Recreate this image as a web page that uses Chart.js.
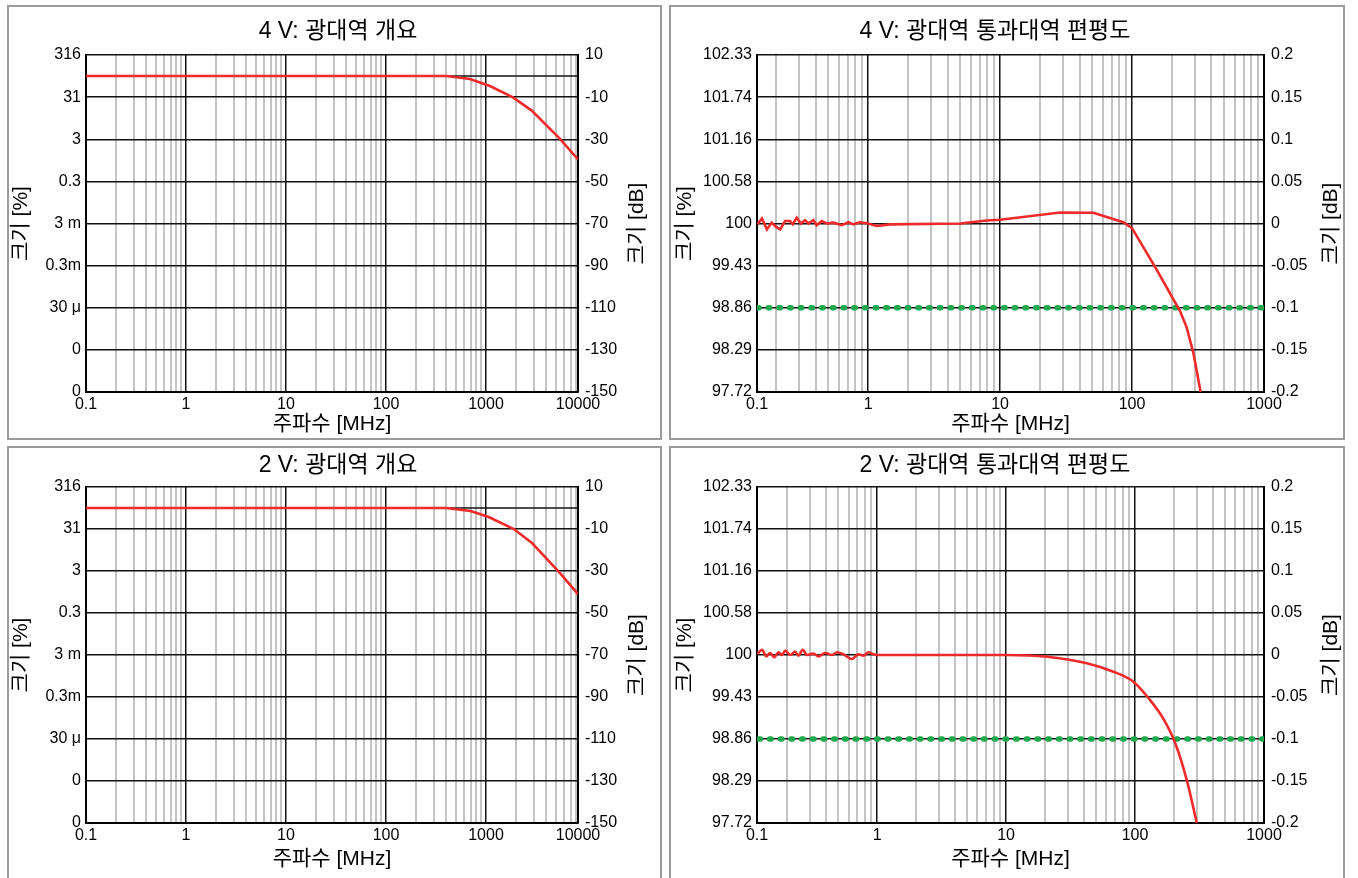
<!DOCTYPE html>
<html lang="ko">
<head>
<meta charset="utf-8">
<title>광대역 주파수 응답</title>
<script src="https://cdn.jsdelivr.net/npm/chart.js@4.4.1/dist/chart.umd.min.js"></script>
<style>
  html, body { margin: 0; padding: 0; background: #fff; }
  body { width: 1358px; height: 878px; position: relative; overflow: hidden; }
  .frame { position: absolute; box-sizing: border-box; border: 2px solid #9b9b9b; }
  canvas { position: absolute; }
</style>
</head>
<body>
<div class="frame" style="left:7px;top:5px;width:655px;height:435px"></div>
<div class="frame" style="left:669px;top:5px;width:676px;height:435px"></div>
<div class="frame" style="left:7px;top:446px;width:655px;height:440px"></div>
<div class="frame" style="left:669px;top:446px;width:676px;height:440px"></div>

<canvas id="overview4v" width="676" height="440" style="left:0;top:0"></canvas>
<canvas id="flat4v" width="710" height="440" style="left:640px;top:0"></canvas>
<canvas id="overview2v" width="676" height="438" style="left:0;top:440px"></canvas>
<canvas id="flat2v" width="710" height="438" style="left:640px;top:440px"></canvas>

<script>
// Axis ticks and labels
const overviewDbTicks = [10, -10, -30, -50, -70, -90, -110, -130, -150];
const overviewPctLabels = ["316", "31", "3", "0.3", "3 m", "0.3m", "30 μ", "0", "0"];
const overviewDbLabels = ["10", "-10", "-30", "-50", "-70", "-90", "-110", "-130", "-150"];
const flatDbTicks = [0.2, 0.15, 0.1, 0.05, 0, -0.05, -0.1, -0.15, -0.2];
const flatPctLabels = ["102.33", "101.74", "101.16", "100.58", "100", "99.43", "98.86", "98.29", "97.72"];
const flatDbLabels = ["0.2", "0.15", "0.1", "0.05", "0", "-0.05", "-0.1", "-0.15", "-0.2"];

// 4 V overview (MHz, dB)
const ov4Freq = [0.1, 1, 10, 100, 404, 692, 1096, 1862, 2864, 5495, 8318];
const ov4Db = [0, 0, 0, 0, 0, -1.4, -4.7, -10.1, -16.4, -29.8, -39.6];

// 2 V overview (MHz, dB)
const ov2Freq = [0.1, 1, 10, 100, 400, 700, 1050, 1900, 2900, 5500, 8318];
const ov2Db = [0, 0, 0, 0, 0, -1.4, -4.2, -10, -16.8, -31, -41];

// 4 V passband flatness (MHz, dB)
const flat4Freq = [0.145, 0.157, 0.171, 0.186, 0.201, 0.216, 0.235, 0.256, 0.269, 0.288, 0.309, 0.333, 0.353, 0.385, 0.408, 0.445, 0.486, 0.546, 0.632, 0.71, 0.774, 0.87, 1.0, 1.16, 1.47, 5, 7.9, 10, 28.5, 50.9, 86, 100, 154, 231, 259, 292, 331];
const flat4Db = [-0.001, 0.006, -0.007, 0.001, -0.004, -0.007, 0.003, 0.003, -0.001, 0.007, 0, 0.004, 0, 0.004, -0.002, 0.003, 0, 0.001, -0.002, 0.0015, -0.001, 0.0015, 0, -0.003, -0.001, 0, 0.0035, 0.0045, 0.013, 0.0127, 0.0015, -0.0055, -0.055, -0.104, -0.123, -0.154, -0.2];

// 2 V passband flatness (MHz, dB)
const flat2Freq = [0.118, 0.128, 0.138, 0.148, 0.159, 0.172, 0.182, 0.194, 0.212, 0.231, 0.245, 0.265, 0.285, 0.321, 0.351, 0.395, 0.446, 0.487, 0.548, 0.637, 0.716, 0.783, 0.857, 0.936, 1.02, 1.6, 10, 20.7, 42.2, 67.9, 97, 130.7, 166, 205, 252, 301];
const flat2Db = [0.0012, 0.0063, -0.0016, 0.0024, -0.0028, 0.0032, 0, 0.0052, 0, 0.004, -0.0008, 0.0063, 0, 0.0016, -0.0016, 0.0024, 0, 0.0032, 0.0008, -0.0048, 0.0008, -0.0008, 0.0032, 0.0008, 0, 0, 0, -0.002, -0.0099, -0.0199, -0.0318, -0.0536, -0.076, -0.105, -0.149, -0.2];

// -0.1 dB limit and 0 dB reference
const limitFreq = [0.1, 1000];
const limitDb = [-0.1, -0.1];
const refFreq = [0.1, 10000];
const refDb = [0, 0];

const FONT = "'Liberation Sans', Arial, 'Noto Sans CJK KR', sans-serif";
const RED = "#ef2a2a";
const GREEN = "#1fa84c";

const toPoints = (xs, ys) => xs.map((x, i) => ({ x, y: ys[i] }));

const isDecade = (v) => Math.abs(Math.log10(v) - Math.round(Math.log10(v))) < 1e-6;

// Log grid: every 1..9 multiple between min and max
const buildFreqTicks = (min, max) => {
  const ticks = [{ value: min }];
  for (let d = -1; d <= 4; d++) {
    for (let m = 1; m <= 9; m++) {
      const v = m * Math.pow(10, d);
      if (v > min * 1.0001 && v < max * 0.9999) ticks.push({ value: v });
    }
  }
  ticks.push({ value: max });
  return ticks;
};

// Right-hand axis title, rotated the same way as the left one
const sideTitle = {
  id: "sideTitle",
  afterDraw: (chart, args, opts) => {
    const { ctx, chartArea } = chart;
    ctx.save();
    ctx.translate(chart.width - opts.offset, (chartArea.top + chartArea.bottom) / 2);
    ctx.rotate(-Math.PI / 2);
    ctx.font = `21px ${FONT}`;
    ctx.fillStyle = "#000";
    ctx.textAlign = "center";
    ctx.textBaseline = "middle";
    ctx.fillText(opts.text, 0, 0);
    ctx.restore();
  },
};

const makeChart = (id, p) => {
  const yAxis = (position, labels, width, padding) => ({
    type: "linear",
    position,
    min: p.yTicks[p.yTicks.length - 1],
    max: p.yTicks[0],
    afterBuildTicks: (s) => { s.ticks = p.yTicks.map((v) => ({ value: v })); },
    afterFit: (s) => { s.width = width; },
    ticks: {
      autoSkip: false,
      padding,
      color: "#000",
      font: { family: FONT, size: 16 },
      callback: (v, i) => labels[i],
    },
    grid: { color: "#111", lineWidth: 1.4, drawTicks: false, drawOnChartArea: position === "left" },
    border: { color: "#000", width: 2 },
    title: position === "left"
      ? { display: true, text: "크기 [%]", color: "#000", font: { family: FONT, size: 21 }, padding: { top: p.leftTitlePad, bottom: 0 } }
      : { display: false },
  });

  const datasets = [
    {
      data: toPoints(p.freq, p.db),
      borderColor: RED,
      borderWidth: 2.6,
      pointRadius: 0,
      cubicInterpolationMode: p.smooth ? "monotone" : "default",
      tension: 0,
    },
  ];
  if (p.limit) {
    datasets.push({ data: toPoints(limitFreq, limitDb), borderColor: GREEN, borderWidth: 5.5, borderDash: [1.5, 9.2], borderCapStyle: "round", pointRadius: 0 });
  }
  if (p.ref) {
    datasets.push({ data: toPoints(refFreq, refDb), borderColor: "#111", borderWidth: 1.4, pointRadius: 0 });
  }

  return new Chart(document.getElementById(id), {
    type: "line",
    data: { datasets },
    options: {
      responsive: false,
      animation: false,
      layout: { padding: 0 },
      plugins: {
        legend: { display: false },
        tooltip: { enabled: false },
        title: {
          display: true,
          text: p.title,
          color: "#000",
          font: { family: FONT, size: 23, weight: "normal" },
          padding: { top: p.titleTop, bottom: p.titleBottom },
        },
        sideTitle: { text: "크기 [dB]", offset: p.rightTitleOffset },
      },
      scales: {
        x: {
          type: "logarithmic",
          min: p.xMin,
          max: p.xMax,
          afterBuildTicks: (s) => { s.ticks = buildFreqTicks(p.xMin, p.xMax); },
          afterFit: (s) => { s.height = p.xHeight; },
          ticks: {
            autoSkip: false,
            maxRotation: 0,
            padding: 3,
            color: "#000",
            font: { family: FONT, size: 16 },
            callback: (v) => {
              if (v === p.xMin) return p.minLabel;
              if (v === p.xMax) return p.maxLabel;
              return isDecade(v) ? String(Number(v.toPrecision(6))) : "";
            },
          },
          grid: {
            drawTicks: false,
            color: (ctx) => (ctx.tick && isDecade(ctx.tick.value) ? "#111" : "#c4c4c4"),
            lineWidth: (ctx) => (ctx.tick && isDecade(ctx.tick.value) ? 1.5 : 2),
          },
          border: { color: "#000", width: 2 },
          title: {
            display: true,
            text: "주파수 [MHz]",
            color: "#000",
            font: { family: FONT, size: 21 },
            padding: { top: 0, bottom: p.xTitlePad },
          },
        },
        y: yAxis("left", p.leftLabels, p.leftWidth, 5),
        y2: yAxis("right", p.rightLabels, p.rightWidth, 7),
      },
    },
    plugins: [sideTitle],
  });
};

document.addEventListener("DOMContentLoaded", () => {
  const overviewBase = {
    xMin: 0.1, xMax: 8318, minLabel: "0.1", maxLabel: "10000",
    yTicks: overviewDbTicks, leftLabels: overviewPctLabels, rightLabels: overviewDbLabels,
    leftWidth: 86, rightWidth: 98, leftTitlePad: 9, rightTitleOffset: 39, ref: true,
  };
  const flatBase = {
    xMax: 1000, minLabel: "0.1", maxLabel: "1000",
    yTicks: flatDbTicks, leftLabels: flatPctLabels, rightLabels: flatDbLabels,
    leftWidth: 117, rightWidth: 86, leftTitlePad: 33, rightTitleOffset: 19, limit: true,
  };
  const topRow = { titleTop: 18, titleBottom: 9.4, xHeight: 48, xTitlePad: 3 };
  const bottomRow = { titleTop: 12, titleBottom: 7.4, xHeight: 55, xTitlePad: 6 };

  makeChart("overview4v", { ...overviewBase, ...topRow, title: "4 V: 광대역 개요", freq: ov4Freq, db: ov4Db });
  makeChart("flat4v", { ...flatBase, ...topRow, title: "4 V: 광대역 통과대역 편평도", xMin: 0.144, freq: flat4Freq, db: flat4Db });
  makeChart("overview2v", { ...overviewBase, ...bottomRow, title: "2 V: 광대역 개요", freq: ov2Freq, db: ov2Db });
  makeChart("flat2v", { ...flatBase, ...bottomRow, title: "2 V: 광대역 통과대역 편평도", xMin: 0.117, freq: flat2Freq, db: flat2Db, smooth: true });
});
</script>
</body>
</html>
